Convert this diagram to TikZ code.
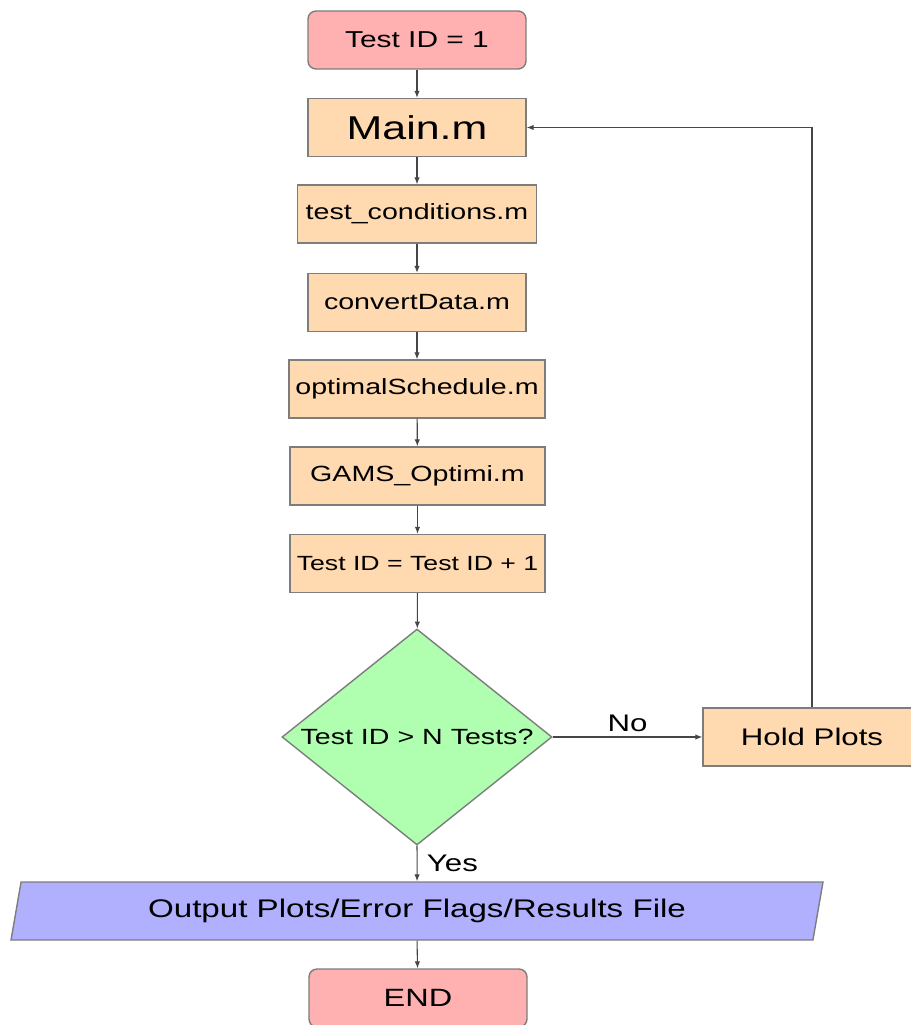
\documentclass[tikz,border=0pt]{standalone}
\usepackage{fontspec}
\setmainfont{Liberation Sans}[FakeStretch=1.3]
\usepackage{tikz}
\usetikzlibrary{arrows.meta,shapes.geometric,positioning}
\definecolor{termfill}{RGB}{255,176,176}
\definecolor{procfill}{RGB}{255,217,176}
\definecolor{decfill}{RGB}{176,255,176}
\definecolor{iofill}{RGB}{176,176,255}
\definecolor{edgegray}{RGB}{125,125,125}
\definecolor{linegray}{RGB}{70,70,70}
\tikzset{
    termbox/.style={rectangle,rounded corners=8pt,draw=edgegray,line width=1.4pt,fill=termfill,
        minimum width=218pt,minimum height=58pt,inner sep=0pt,font=\fontsize{23}{27}\selectfont},
    procbox/.style={rectangle,draw=edgegray,line width=1.4pt,fill=procfill,
        minimum height=58pt,inner sep=0pt,font=\fontsize{22}{26}\selectfont},
    decbox/.style={diamond,aspect=1.25,draw=edgegray,line width=1.4pt,fill=decfill,
        minimum width=270pt,minimum height=216pt,inner sep=0pt,font=\fontsize{22}{26}\selectfont},
    iobox/.style={trapezium,trapezium left angle=67,trapezium right angle=113,trapezium stretches body=true,
        draw=edgegray,line width=1.4pt,fill=iofill,minimum width=812pt,minimum height=58pt,
        inner sep=0pt,font=\fontsize{25.5}{30}\selectfont},
    flowline/.style={line width=1.1pt,draw=linegray,-{Latex[length=7pt,width=5.5pt]}},
    branchlabel/.style={font=\fontsize{24}{28}\selectfont,text=black},
    every node/.style={text=black}
}

\begin{document}
\begin{tikzpicture}[x=1pt,y=-1pt]
    \useasboundingbox (0,0) rectangle (910,1025);

    % start and main
    \node[termbox] (start) at (417,40) {Test ID = 1};
    \node[procbox,minimum width=218pt,font=\fontsize{33}{38}\selectfont] (main) at (417,127.5) {Main.m};

    % the scripts, one after another
    \node[procbox,minimum width=239pt] (cond) at (417,214) {test\_conditions.m};
    \node[procbox,minimum width=218pt] (conv) at (417,302.5) {convertData.m};
    \node[procbox,minimum width=256pt] (optim) at (417,389) {optimalSchedule.m};
    \node[procbox,minimum width=255pt] (gams) at (417.5,476) {GAMS\_Optimi.m};
    \node[procbox,minimum width=255pt,font=\fontsize{20.5}{25}\selectfont] (incr) at (417.5,563.5) {Test ID = Test ID + 1};

    % check
    \node[decbox] (check) at (417,737) {Test ID > N Tests?};
    \node[procbox,minimum width=218pt,font=\fontsize{24}{28}\selectfont] (hold) at (812,737) {Hold Plots};

    % output and end
    \node[iobox] (out) at (417,911) {Output Plots/Error Flags/Results File};
    \node[termbox,font=\fontsize{25}{30}\selectfont] (stop) at (418,998) {END};

    % arrows
    \draw[flowline] (start) -- (main);
    \draw[flowline] (main) -- (cond);
    \draw[flowline] (cond) -- (conv);
    \draw[flowline] (conv) -- (optim);
    \draw[flowline] (optim) -- (gams);
    \draw[flowline] (gams) -- (incr);
    \draw[flowline] (incr) -- (check);
    \draw[flowline] (check) -- node[branchlabel,above=1pt] {No} (hold);
    \draw[flowline] (hold.north) |- (main.east);
    \draw[flowline] (check) -- node[branchlabel,right=6pt] {Yes} (out.north);
    \draw[flowline] (out.south) -- (stop);
\end{tikzpicture}
\end{document}
